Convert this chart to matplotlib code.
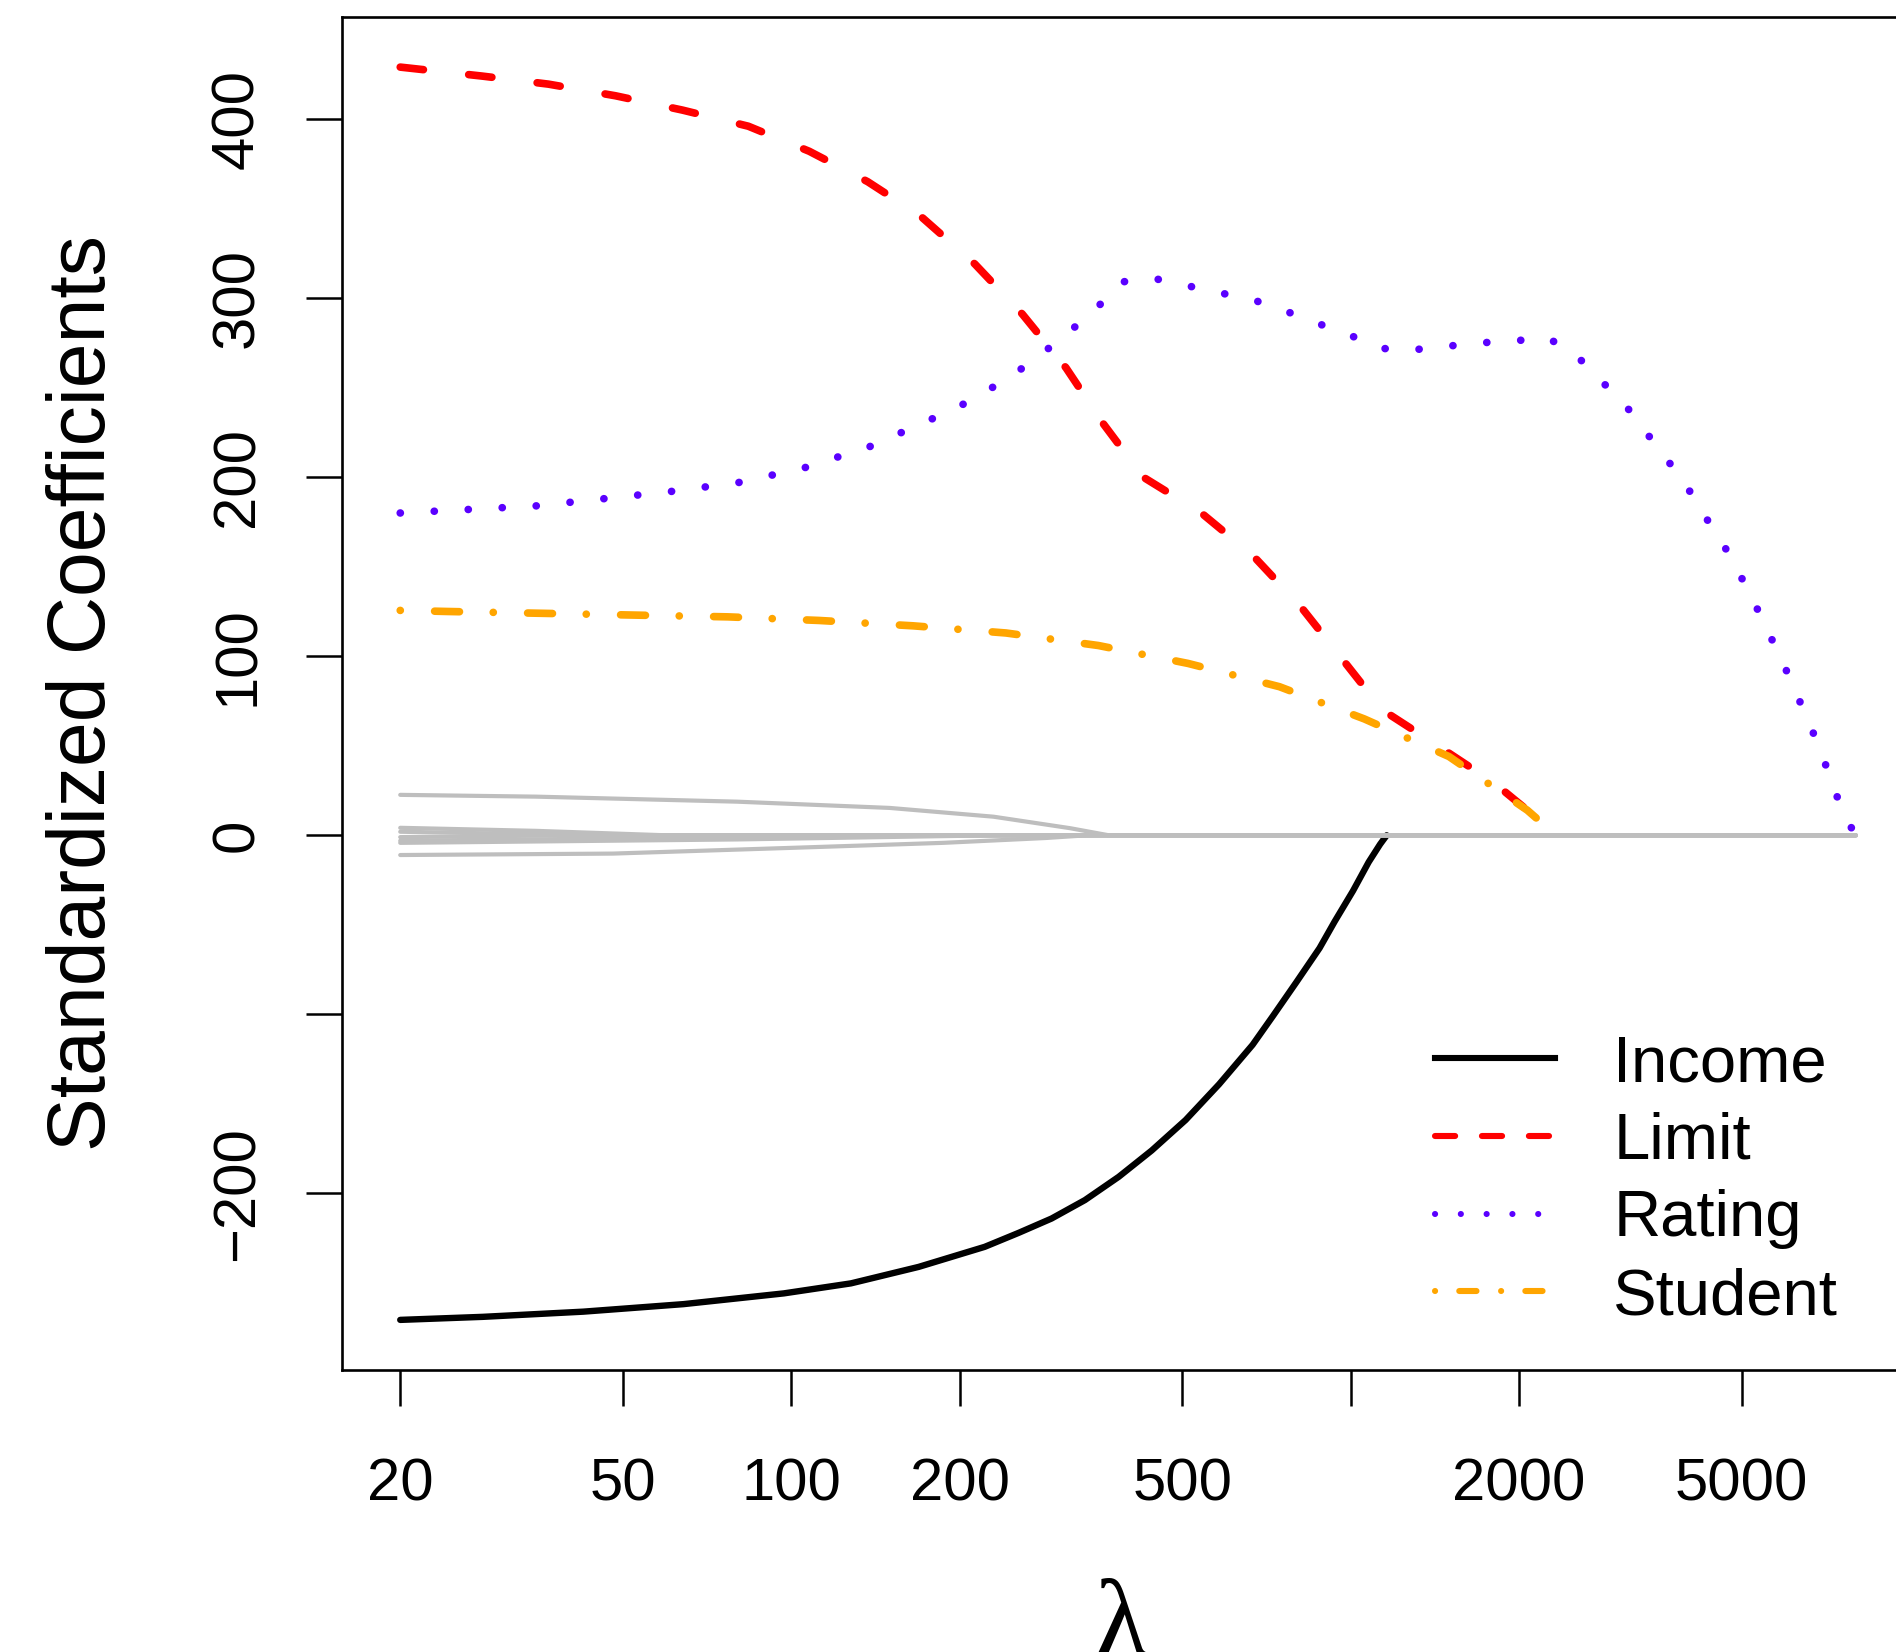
import numpy as np
import matplotlib
matplotlib.use('Agg')
import matplotlib.pyplot as plt
from matplotlib.lines import Line2D
from matplotlib.ticker import NullLocator

plt.rcParams['font.family'] = ['Liberation Sans', 'DejaVu Sans']
plt.rcParams['lines.scale_dashes'] = False

# lasso coefficient paths, read along lambda (log scale); each stops where it hits zero
income_lam = [20, 28.1, 42.5, 64.2, 97, 127.9, 169, 221.8, 255, 292, 335, 385, 441, 507, 582, 668,
              726, 800, 880, 937, 1010, 1077, 1129, 1160]
income = [-270.6, -268.9, -266, -261.8, -255.8, -250.2, -241, -229.8, -222, -214, -203.7, -190.7,
          -176, -159, -139, -117, -101, -82, -63, -48, -31, -15, -5, 0]

limit_lam = [20, 28, 36.8, 48.5, 63.9, 83.8, 107.7, 137, 170, 213, 259, 310, 361, 426, 541, 670, 813, 963, 1140, 1448, 1810, 2264, 2344]
limit = [429, 424, 419.5, 413, 405, 396, 382, 365, 346, 319, 291, 261, 230, 200, 180, 156, 128, 99, 70, 49, 29, 4, 0]

rating_lam = [20, 26.6, 35.1, 46.3, 60.9, 80.5, 105, 138, 177, 201, 226, 254, 286, 319, 353, 389, 445,
              509, 583, 670, 762, 871, 987, 1123, 1284, 1476, 1698, 1950, 2243, 2515, 2778, 3068, 3338,
              3632, 3954, 4260, 4590, 4920, 5248, 5572, 5916, 6248, 6598, 6968, 7288, 7697, 8000]
rating = [180, 182, 184, 188, 192, 197, 205, 217, 232, 240, 249, 259, 271, 283, 295, 309, 311,
          307, 303, 299, 293, 286, 280, 272, 271, 273, 275, 276, 278, 269, 255, 242, 227,
          212, 197, 180, 165, 148, 131, 114, 97, 80, 63, 45, 27, 9, 0]

student_lam = [20, 24.3, 35.6, 52.2, 77, 112, 165, 242, 354, 512, 746, 1058, 1499, 2070, 2330]
student = [125.6, 125, 124, 123, 122, 120, 117, 113, 106, 96, 83, 65, 44, 14, 0]

# the remaining predictors (drawn in grey)
cards_lam = [20, 35, 80, 150, 230, 315, 370, 8000]
cards = [22.6, 21.6, 18.8, 15.3, 10.4, 4, 0, 0]
age_lam = [20, 48, 100, 187, 285, 337, 8000]
age = [-11, -10.2, -7, -4.2, -1.5, 0, 0]
asian_lam = [20, 35, 60, 8000]
asian = [4.2, 2.5, 0, 0]
caucasian_lam = [20, 30, 45, 8000]
caucasian = [2.0, 1.0, 0, 0]
education_lam = [20, 40, 8000]
education = [-1.0, 0, 0]
married_lam = [20, 60, 150, 8000]
married = [-3.0, -1.5, 0, 0]
gender_lam = [20, 80, 230, 8000]
gender = [-4.2, -2.3, 0, 0]

xticks = [20, 50, 100, 200, 500, 1000, 2000, 5000]
xticklabels = ['20', '50', '100', '200', '500', '', '2000', '5000']
yticks = [-200, -100, 0, 100, 200, 300, 400]
yticklabels = ['\u2212200', '', '0', '100', '200', '300', '400']

fig = plt.figure(figsize=(18.96, 16.52), dpi=100)
ax = fig.add_axes([342/1896, 282/1652, 1572/1896, 1353/1652])

lw = 5.5
ax.plot(income_lam, income, color='black', lw=4.6, solid_capstyle='round')
l1, = ax.plot(limit_lam, limit, color='red', lw=lw, dash_capstyle='round')
l1.set_dashes((16.8, 32.8))
l2, = ax.plot(rating_lam, rating, color='#5a00ff', lw=lw, dash_capstyle='round')
l2.set_dashes((0.1, 24.4))
l3, = ax.plot(student_lam, student, color='orange', lw=lw, dash_capstyle='round')
l3.set_dashes((0.07, 24.7, 17.9, 24.3))

for lam, coef in [(cards_lam, cards), (age_lam, age), (asian_lam, asian), (caucasian_lam, caucasian),
                  (education_lam, education), (married_lam, married), (gender_lam, gender)]:
    ax.plot(lam, coef, color='#bebebe', lw=3.0, solid_capstyle='round', zorder=3)

# R-style 4% padding on both axes
ax.set_xscale('log')
lo, hi = np.log10(20), np.log10(8000)
pad = 0.04 * (hi - lo)
ax.set_xlim(10 ** (lo - pad), 10 ** (hi + pad))
ymin, ymax = min(income), max(limit)
ypad = 0.04 * (ymax - ymin)
ax.set_ylim(ymin - ypad, ymax + ypad)

ax.set_xticks(xticks)
ax.set_xticklabels(xticklabels)
ax.xaxis.set_minor_locator(NullLocator())
ax.set_yticks(yticks)
ax.set_yticklabels(yticklabels, rotation=90, va='center')

ax.tick_params(axis='both', direction='out', length=26, width=1.8, labelsize=43)
ax.tick_params(axis='x', pad=37)
ax.tick_params(axis='y', pad=29)
for sp in ax.spines.values():
    sp.set_linewidth(1.9)

fig.text(84/1896, 0.5802, 'Standardized Coefficients', rotation=90, fontsize=58,
         ha='center', va='center')
fig.text(1121/1896, 0.0442, '\u03bb', fontsize=80, family=['Liberation Serif', 'DejaVu Serif'],
         ha='center', va='top')

# legend keys use a shorter dash pattern than the curves
lh = 4.4
h_income = Line2D([], [], color='black', lw=lh)
h_limit = Line2D([], [], color='red', lw=lh, dash_capstyle='round')
h_limit.set_dashes((14.5, 19.3))
h_rating = Line2D([], [], color='#5a00ff', lw=lh, dash_capstyle='round')
h_rating.set_dashes((0.07, 18.5))
h_student = Line2D([], [], color='orange', lw=lh, dash_capstyle='round')
h_student.set_dashes((0.07, 17.4, 12.4, 17.7))
ax.legend([h_income, h_limit, h_rating, h_student], ['Income', 'Limit', 'Rating', 'Student'],
          loc='upper left', bbox_to_anchor=(1435/1896, 0.374), bbox_transform=fig.transFigure,
          frameon=False, fontsize=47, handlelength=1.84, handletextpad=0.89,
          labelspacing=0.27, borderpad=0, borderaxespad=0)

fig.savefig('out.png', dpi=100)
